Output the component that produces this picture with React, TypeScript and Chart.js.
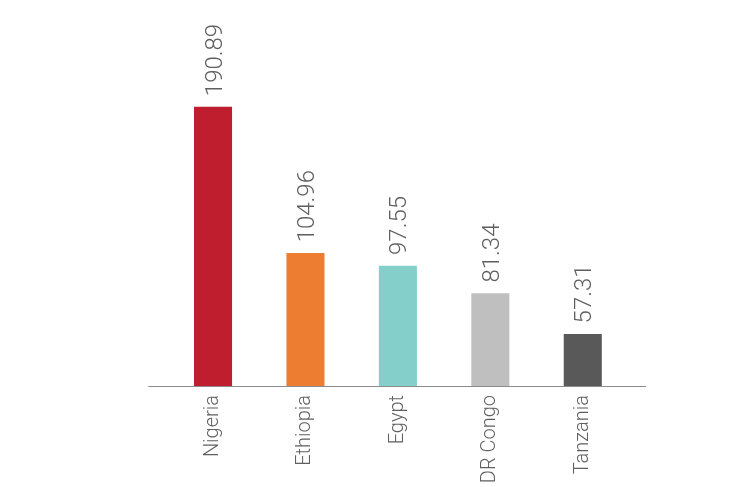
import React, { useEffect, useRef } from "react";
import { Chart, registerables } from "chart.js";

Chart.register(...registerables);

const categories: string[] = ["Nigeria", "Ethiopia", "Egypt", "DR Congo", "Tanzania"];
const values: number[] = [190.89, 104.96, 97.55, 81.34, 57.31];
const valueLabels: string[] = ["190.89", "104.96", "97.55", "81.34", "57.31"];
const barColors: string[] = ["#BE1E2D", "#ED7D31", "#84CFCA", "#BFBFBF", "#595959"];

const TEXT_COLOR = "#5f5f5f";
const FONT_FAMILY = "Roboto";

const valueLabelPlugin = {
  id: "valueLabels",
  afterDatasetsDraw(chart: any) {
    const ctx = chart.ctx;
    const meta = chart.getDatasetMeta(0);
    const size = 24;
    ctx.save();
    ctx.font = `300 ${size}px ${FONT_FAMILY}`;
    ctx.fillStyle = TEXT_COLOR;
    ctx.textAlign = "left";
    ctx.textBaseline = "alphabetic";
    meta.data.forEach((bar: any, i: number) => {
      ctx.save();
      ctx.translate(bar.x, bar.y - 11);
      ctx.rotate(-Math.PI / 2);
      ctx.fillText(valueLabels[i], 0, size * 0.711 / 2);
      ctx.restore();
    });
    ctx.restore();
  },
};

const baselinePlugin = {
  id: "baseline",
  afterDatasetsDraw(chart: any) {
    const ctx = chart.ctx;
    const area = chart.chartArea;
    const y = Math.round(area.bottom) + 0.5;
    ctx.save();
    ctx.strokeStyle = "#8c8c8c";
    ctx.lineWidth = 1.2;
    ctx.beginPath();
    ctx.moveTo(area.left - 18.5, y);
    ctx.lineTo(area.right + 17, y);
    ctx.stroke();
    ctx.restore();
  },
};

export default function App() {
  const ref = useRef<HTMLCanvasElement | null>(null);

  useEffect(() => {
    if (!ref.current) return;
    const chart = new Chart(ref.current, {
      type: "bar",
      data: {
        labels: categories,
        datasets: [
          {
            data: values,
            backgroundColor: barColors,
            borderWidth: 0,
            barThickness: 37.4,
          },
        ],
      },
      options: {
        responsive: false,
        animation: false,
        layout: {
          padding: { left: 166.8, right: 122, top: 23.6, bottom: 0 },
        },
        plugins: {
          legend: { display: false },
          tooltip: { enabled: false },
        },
        scales: {
          y: {
            display: false,
            min: 27,
            max: 240,
          },
          x: {
            grid: { display: false, drawTicks: false },
            border: { display: false },
            ticks: {
              maxRotation: 90,
              minRotation: 90,
              padding: 9,
              color: TEXT_COLOR,
              font: { family: FONT_FAMILY, size: 20, weight: "300" as any },
            },
            afterFit: (scale: any) => {
              scale.height = 101;
            },
          },
        },
      },
      plugins: [valueLabelPlugin, baselinePlugin],
    });
    return () => chart.destroy();
  }, []);

  return (
    <div style={{ position: "fixed", left: 0, top: 0, width: 751, height: 487, background: "#fff" }}>
      <canvas ref={ref} width={751} height={487} style={{ display: "block" }} />
    </div>
  );
}
